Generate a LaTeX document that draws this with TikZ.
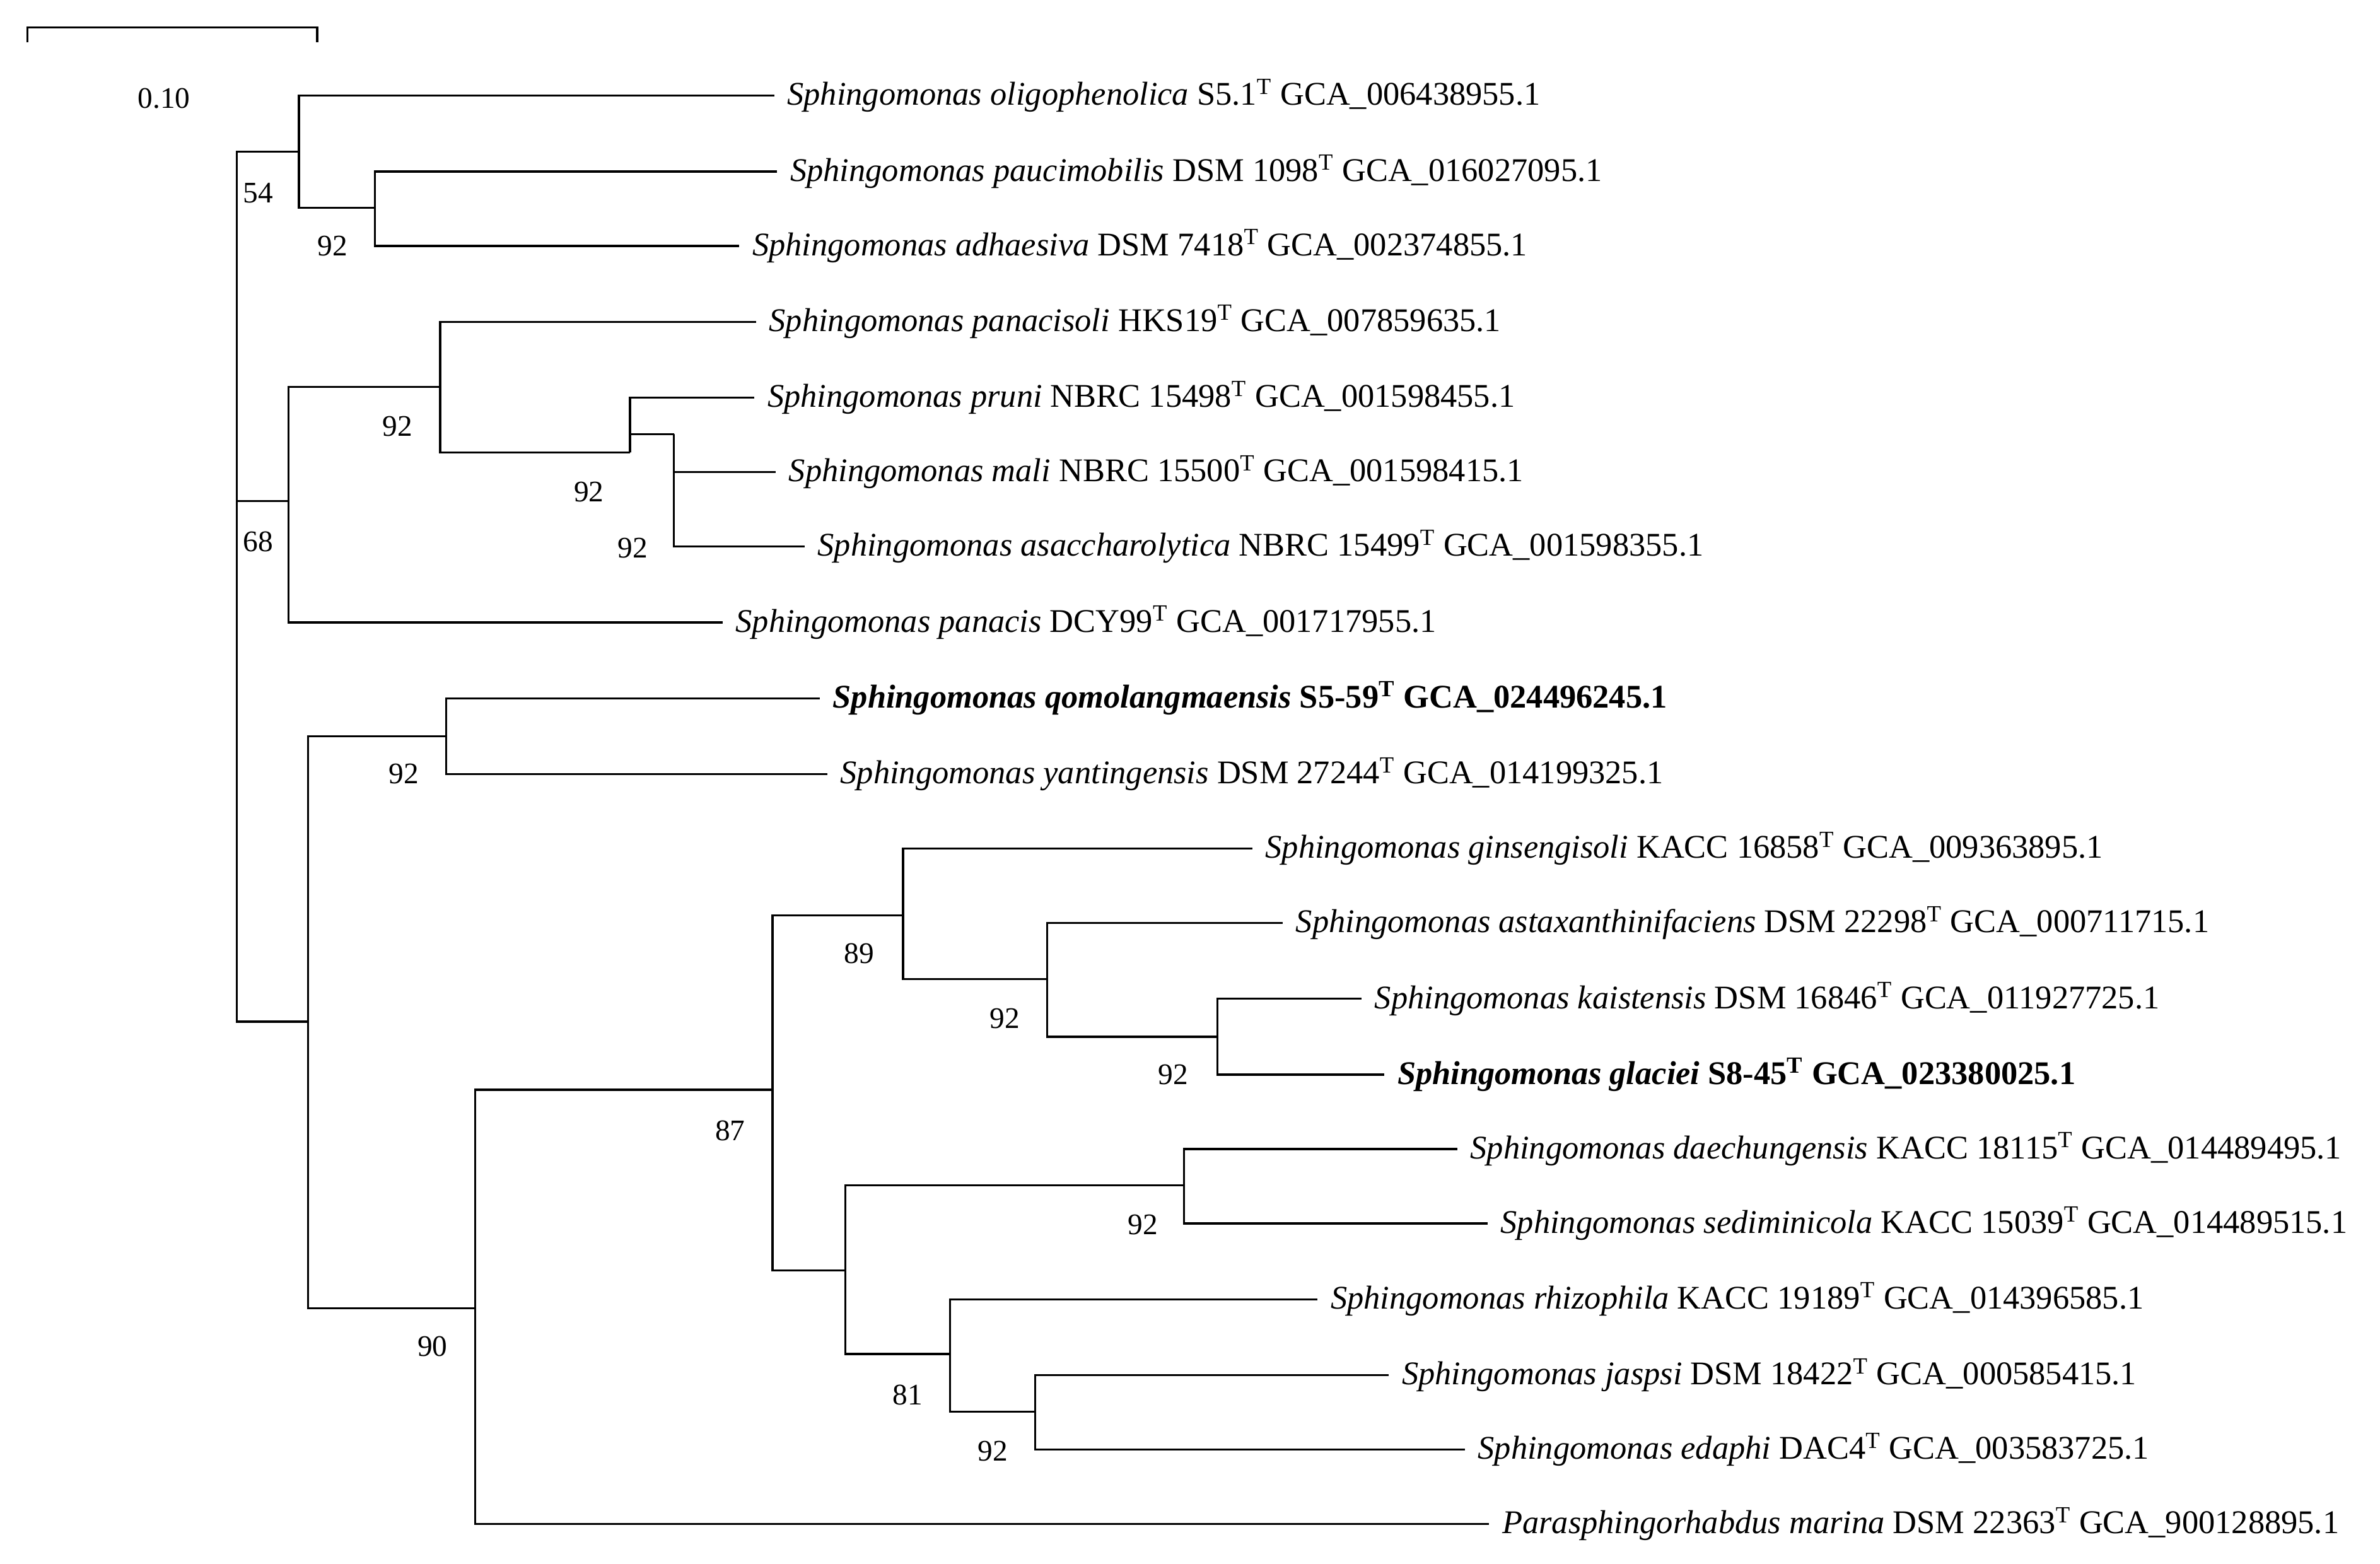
\documentclass[tikz,border=0pt]{standalone}
\usepackage{fontspec}
\setmainfont{Liberation Serif}
\newcommand{\sphg}[2]{\textit{Sphingomonas #1} #2}
\begin{document}
\begin{tikzpicture}[x=0.25mm,y=-0.25mm,line width=0.35mm,
  leaf/.style={anchor=west,inner xsep=2mm,inner ysep=0pt,font=\fontsize{15.5}{18}\selectfont},
  bs/.style={font=\fontsize{14}{16}\selectfont,inner sep=0pt}]
\useasboundingbox (0,0) rectangle (1568,1030);
% leaves
\node[leaf] (l1) at (510,63) {\sphg{oligophenolica}{S5.1\textsuperscript{T} GCA\_006438955.1}};
\node[leaf] (l2) at (512,113) {\sphg{paucimobilis}{DSM 1098\textsuperscript{T} GCA\_016027095.1}};
\node[leaf] (l3) at (487,162) {\sphg{adhaesiva}{DSM 7418\textsuperscript{T} GCA\_002374855.1}};
\node[leaf] (l4) at (498,212) {\sphg{panacisoli}{HKS19\textsuperscript{T} GCA\_007859635.1}};
\node[leaf] (l5) at (497,262) {\sphg{pruni}{NBRC 15498\textsuperscript{T} GCA\_001598455.1}};
\node[leaf] (l6) at (511,311) {\sphg{mali}{NBRC 15500\textsuperscript{T} GCA\_001598415.1}};
\node[leaf] (l7) at (530,360) {\sphg{asaccharolytica}{NBRC 15499\textsuperscript{T} GCA\_001598355.1}};
\node[leaf] (l8) at (476,410) {\sphg{panacis}{DCY99\textsuperscript{T} GCA\_001717955.1}};
\node[leaf] (l9) at (540,460) {\bfseries\sphg{qomolangmaensis}{S5-59\textsuperscript{T} GCA\_024496245.1}};
\node[leaf] (l10) at (545,510) {\sphg{yantingensis}{DSM 27244\textsuperscript{T} GCA\_014199325.1}};
\node[leaf] (l11) at (825,559) {\sphg{ginsengisoli}{KACC 16858\textsuperscript{T} GCA\_009363895.1}};
\node[leaf] (l12) at (845,608) {\sphg{astaxanthinifaciens}{DSM 22298\textsuperscript{T} GCA\_000711715.1}};
\node[leaf] (l13) at (897,658) {\sphg{kaistensis}{DSM 16846\textsuperscript{T} GCA\_011927725.1}};
\node[leaf] (l14) at (912,708) {\bfseries\sphg{glaciei}{S8-45\textsuperscript{T} GCA\_023380025.1}};
\node[leaf] (l15) at (960,757) {\sphg{daechungensis}{KACC 18115\textsuperscript{T} GCA\_014489495.1}};
\node[leaf] (l16) at (980,806) {\sphg{sediminicola}{KACC 15039\textsuperscript{T} GCA\_014489515.1}};
\node[leaf] (l17) at (868,856) {\sphg{rhizophila}{KACC 19189\textsuperscript{T} GCA\_014396585.1}};
\node[leaf] (l18) at (915,906) {\sphg{jaspsi}{DSM 18422\textsuperscript{T} GCA\_000585415.1}};
\node[leaf] (l19) at (965,955) {\sphg{edaphi}{DAC4\textsuperscript{T} GCA\_003583725.1}};
\node[leaf] (l20) at (981,1004) {\textit{Parasphingorhabdus marina} DSM 22363\textsuperscript{T} GCA\_900128895.1};
% internal nodes
\coordinate (r) at (156,330);
\coordinate (a) at (197,100);
\coordinate (b) at (247,137);
\coordinate (c) at (190,330);
\coordinate (d) at (290,255);
\coordinate (e) at (415,298);
\coordinate (f) at (444,286);
\coordinate (g) at (203,673);
\coordinate (h) at (294,485);
\coordinate (i) at (313,862);
\coordinate (j) at (509,718);
\coordinate (k) at (595,603);
\coordinate (m) at (690,645);
\coordinate (n) at (802,683);
\coordinate (o) at (557,837);
\coordinate (p) at (780,781);
\coordinate (q) at (626,892);
\coordinate (s) at (682,930);
% edges
\draw (a) -| (r) |- (g);
\draw (r) -- (c);
\draw (l1.west) -| (a) |- (b);
\draw (l2.west) -| (b) |- (l3.west);
\draw (d) -| (c) |- (l8.west);
\draw (l4.west) -| (d) |- (e);
\draw (l5.west) -| (e) |- (f);
\draw (l6.west) -| (f) |- (l7.west);
\draw (h) -| (g) |- (i);
\draw (l9.west) -| (h) |- (l10.west);
\draw (j) -| (i) |- (l20.west);
\draw (k) -| (j) |- (o);
\draw (l11.west) -| (k) |- (m);
\draw (l12.west) -| (m) |- (n);
\draw (l13.west) -| (n) |- (l14.west);
\draw (p) -| (o) |- (q);
\draw (l15.west) -| (p) |- (l16.west);
\draw (l17.west) -| (q) |- (s);
\draw (l18.west) -| (s) |- (l19.west);
% bootstrap
\node[bs] (b1) at (170,127) {54};
\node[bs] (b2) at (219,162) {92};
\node[bs] (b3) at (170,357) {68};
\node[bs] (b4) at (262,281) {92};
\node[bs] (b5) at (388,324) {92};
\node[bs] (b6) at (417,361) {92};
\node[bs] (b7) at (266,510) {92};
\node[bs] (b8) at (285,887) {90};
\node[bs] (b9) at (481,745) {87};
\node[bs] (b10) at (566,628) {89};
\node[bs] (b11) at (662,671) {92};
\node[bs] (b12) at (773,708) {92};
\node[bs] (b13) at (753,807) {92};
\node[bs] (b14) at (598,919) {81};
\node[bs] (b15) at (654,956) {92};
% scale bar
\coordinate (s1) at (18,18);
\coordinate (s2) at (209,18);
\draw (s1) ++(0,10) -- (s1) -- (s2) -- ++(0,10);
\node[bs] (sl) at (108,65) {0.10};
\end{tikzpicture}
\end{document}
